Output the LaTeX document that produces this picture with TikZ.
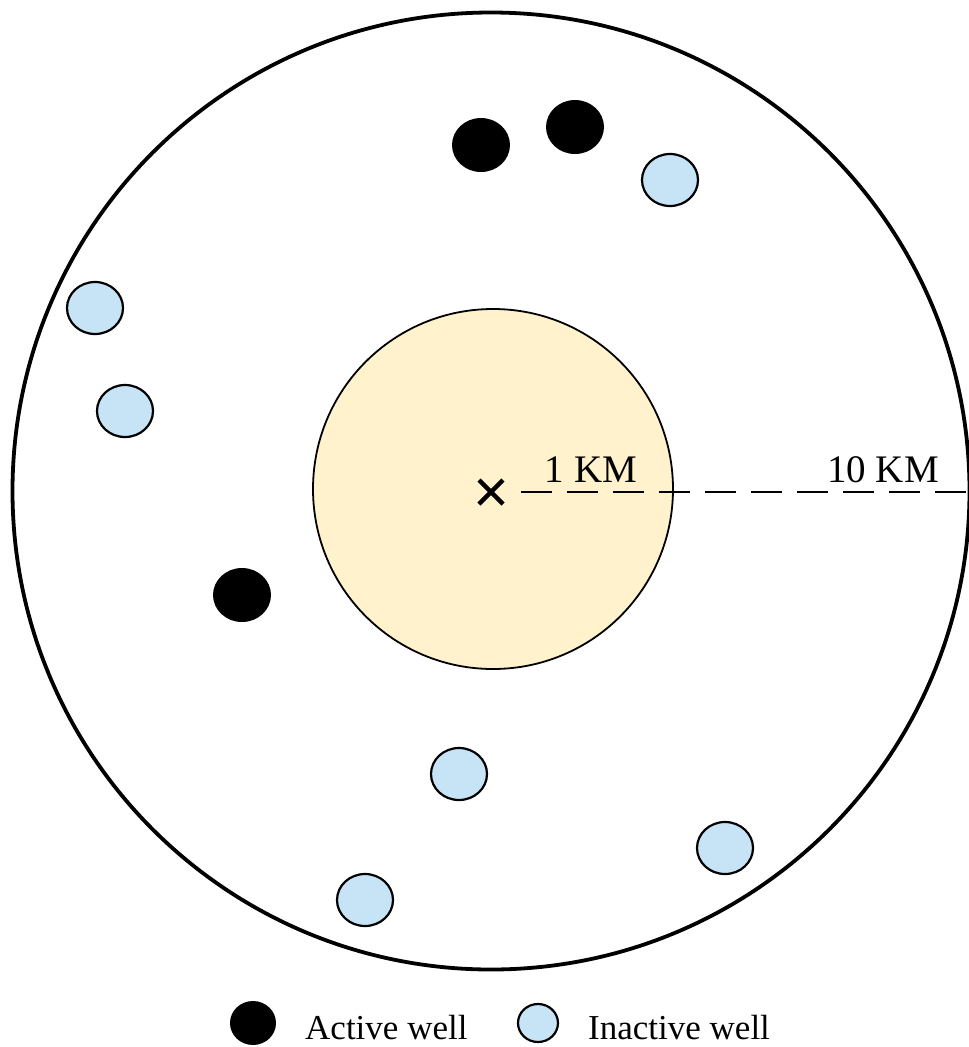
\documentclass[tikz,border=0pt]{standalone}
\usepackage{fontspec}
\setmainfont{Liberation Serif}
\usetikzlibrary{shapes.geometric,calc}
\definecolor{zonefill}{RGB}{255,242,204}
\definecolor{wellblue}{RGB}{198,228,245}
\tikzset{
  activewell/.style={ellipse, fill=black, minimum width=58pt, minimum height=54pt, inner sep=0pt},
  inactivewell/.style={ellipse, draw=black, line width=2.2pt, fill=wellblue, minimum width=56pt, minimum height=52pt, inner sep=0pt},
  kmlbl/.style={font=\fontsize{39}{42}\selectfont, inner sep=0pt},
  lbl/.style={font=\fontsize{35}{38}\selectfont, inner sep=0pt}
}
\begin{document}
\begin{tikzpicture}[x=1pt, y=-1pt]
\useasboundingbox (0,0) rectangle (969,1047);
% zones
\node[circle, draw, line width=3.8pt, minimum size=957pt, inner sep=0pt] (outer) at (491,491) {};
\node[circle, draw, line width=1.8pt, fill=zonefill, minimum size=360pt, inner sep=0pt] (inner) at (493,489) {};
% centre and radius line
\coordinate (centre) at (491,492);
\draw[line width=4.5pt] ($(centre)+(-12,-12)$) -- ($(centre)+(12,12)$) ($(centre)+(-12,12)$) -- ($(centre)+(12,-12)$);
\coordinate (dashstart) at (521,492);
\coordinate (dashend) at (969,492);
\draw[line width=2.2pt, dash pattern=on 31pt off 15pt] (dashstart) -- (dashend);
\node[kmlbl, anchor=base] (onekm) at (591,482) {1 KM};
\node[kmlbl, anchor=base] (tenkm) at (883,482) {10 KM};
% active wells
\node[activewell] (a1) at (481,145) {};
\node[activewell] (a2) at (575,127) {};
\node[activewell] (a3) at (242,595) {};
% inactive wells
\node[inactivewell] (i1) at (670,180) {};
\node[inactivewell] (i2) at (95,308) {};
\node[inactivewell] (i3) at (125,411) {};
\node[inactivewell] (i4) at (459,774) {};
\node[inactivewell] (i5) at (725,848) {};
\node[inactivewell] (i6) at (365,900) {};
% legend
\node[activewell, minimum width=46pt, minimum height=44pt] (legact) at (253,1023) {};
\node[lbl, anchor=base west] (legacttext) at (305,1039) {Active well};
\node[inactivewell, minimum width=40pt, minimum height=38pt] (leginact) at (538,1023) {};
\node[lbl, anchor=base west] (leginacttext) at (588,1039) {Inactive well};
\end{tikzpicture}
\end{document}
